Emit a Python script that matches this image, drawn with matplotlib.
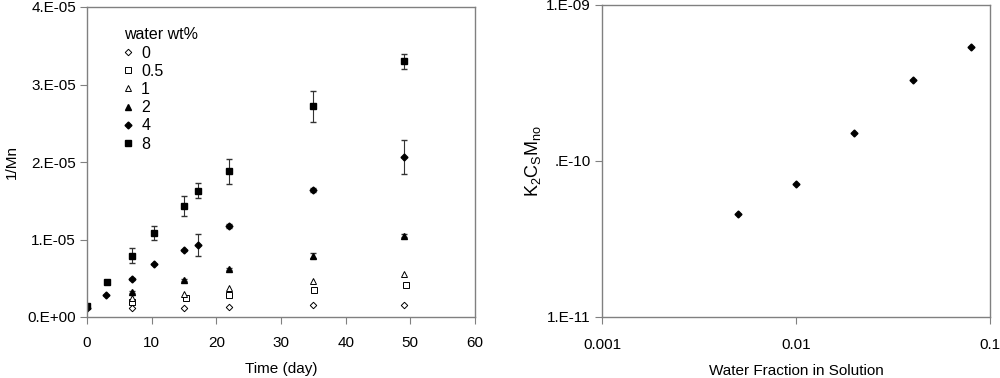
import matplotlib
matplotlib.use("Agg")
import matplotlib.pyplot as plt
from matplotlib.ticker import FixedLocator, FixedFormatter

plt.rcParams['font.family'] = ['Liberation Sans', 'DejaVu Sans']
plt.rcParams['font.size'] = 11
plt.rcParams['mathtext.default'] = 'regular'

# left panel: 1/Mn vs time for each water content
t_0 = [7, 15, 22, 35, 49]
mn_0 = [1.1e-6, 1.2e-6, 1.3e-6, 1.5e-6, 1.6e-6]
t_05 = [7, 15.3, 22, 35.1, 49.3]
mn_05 = [2.0e-6, 2.5e-6, 2.9e-6, 3.5e-6, 4.1e-6]
t_1 = [7, 15, 22, 35, 49]
mn_1 = [2.4e-6, 3.0e-6, 3.8e-6, 4.6e-6, 5.5e-6]
t_2 = [7, 15, 22, 35, 49]
mn_2 = [3.2e-6, 4.8e-6, 6.2e-6, 7.9e-6, 10.5e-6]
err_2 = [0.1e-6, 0.1e-6, 0.1e-6, 0.3e-6, 0.2e-6]
t_4 = [0, 3, 7, 10.3, 15, 17.2, 22, 35, 49]
mn_4 = [1.1e-6, 2.9e-6, 4.9e-6, 6.8e-6, 8.6e-6, 9.3e-6, 11.7e-6, 16.4e-6, 20.7e-6]
err_4 = [0, 0, 0.1e-6, 0, 0.1e-6, 1.45e-6, 0.25e-6, 0.25e-6, 2.2e-6]
t_8 = [0, 3.1, 7, 10.3, 15, 17.2, 22, 35, 49]
mn_8 = [1.4e-6, 4.5e-6, 7.9e-6, 10.9e-6, 14.3e-6, 16.3e-6, 18.8e-6, 27.2e-6, 33.0e-6]
err_8 = [0.2e-6, 0.2e-6, 0.95e-6, 0.9e-6, 1.3e-6, 1.0e-6, 1.6e-6, 2.0e-6, 1.0e-6]

# right panel
water_frac = [0.005, 0.01, 0.02, 0.04, 0.08]
k2csmno = [4.6e-11, 7.1e-11, 1.52e-10, 3.32e-10, 5.4e-10]

frame_col = '#808080'

fig = plt.figure(figsize=(10, 3.78), dpi=100)
ax1 = fig.add_axes([0.087, 61 / 378, 0.388, 310 / 378])
ax2 = fig.add_axes([0.602, 61 / 378, 0.388, 312 / 378])

ax1.plot(t_0, mn_0, 'D', ms=3.3, mfc='white', mec='black', mew=0.7, ls='none', label='0')
ax1.plot(t_05, mn_05, 's', ms=4.2, mfc='white', mec='black', mew=0.7, ls='none', label='0.5')
ax1.plot(t_1, mn_1, '^', ms=4.7, mfc='white', mec='black', mew=0.7, ls='none', label='1')
ax1.errorbar(t_2, mn_2, yerr=err_2, fmt='^', ms=4.8, color='black', ecolor='#333333',
             elinewidth=0.8, capsize=2.5, label='2')
ax1.errorbar(t_4, mn_4, yerr=err_4, fmt='D', ms=3.5, color='black', ecolor='#333333',
             elinewidth=0.8, capsize=2.5, label='4')
ax1.errorbar(t_8, mn_8, yerr=err_8, fmt='s', ms=5, color='black', ecolor='#333333',
             elinewidth=0.8, capsize=2.5, label='8')

ax1.set_xlim(0, 60)
ax1.set_ylim(0, 4e-5)
ax1.set_xticks([0, 10, 20, 30, 40, 50, 60])
ax1.set_yticks([0, 1e-5, 2e-5, 3e-5, 4e-5])
ax1.set_yticklabels(['0.E+00', '1.E-05', '2.E-05', '3.E-05', '4.E-05'])
ax1.set_xlabel('Time (day)', labelpad=8)
ax1.set_ylabel('1/Mn', labelpad=6)
ax1.tick_params(axis='x', direction='out', length=5, pad=9, color=frame_col)
ax1.tick_params(axis='y', direction='out', length=5, pad=3, color=frame_col)

# legend shows markers only
handles, labels = ax1.get_legend_handles_labels()
handles = [h.lines[0] if hasattr(h, 'lines') else h for h in handles]
leg = ax1.legend(handles, labels, title='water wt%', loc='upper left', bbox_to_anchor=(0.078, 0.955),
                 frameon=False, fontsize=11.5, title_fontsize=11.5, handlelength=0.6,
                 handletextpad=0.5, labelspacing=0.2, borderaxespad=0)
leg._legend_box.align = 'left'

ax2.loglog(water_frac, k2csmno, 'D', ms=3.5, color='black', ls='none')
ax2.set_xlim(0.001, 0.1)
ax2.set_ylim(1e-11, 1e-9)
ax2.xaxis.set_major_locator(FixedLocator([0.001, 0.01, 0.1]))
ax2.xaxis.set_major_formatter(FixedFormatter(['0.001', '0.01', '0.1']))
ax2.xaxis.set_minor_locator(FixedLocator([]))
ax2.yaxis.set_major_locator(FixedLocator([1e-11, 1e-10, 1e-9]))
ax2.yaxis.set_major_formatter(FixedFormatter(['1.E-11', '.E-10', '1.E-09']))
ax2.yaxis.set_minor_locator(FixedLocator([]))
ax2.set_xlabel('Water Fraction in Solution', labelpad=9)
ax2.set_ylabel('K$_2$C$_S$M$_{no}$', fontsize=13, labelpad=2)
ax2.tick_params(axis='x', direction='out', length=5, pad=10, color=frame_col)
ax2.tick_params(axis='y', direction='out', length=5, pad=3, color=frame_col)

for ax in (ax1, ax2):
    for sp in ax.spines.values():
        sp.set_color(frame_col)
        sp.set_linewidth(1.0)

fig.savefig('out.png', dpi=100)
